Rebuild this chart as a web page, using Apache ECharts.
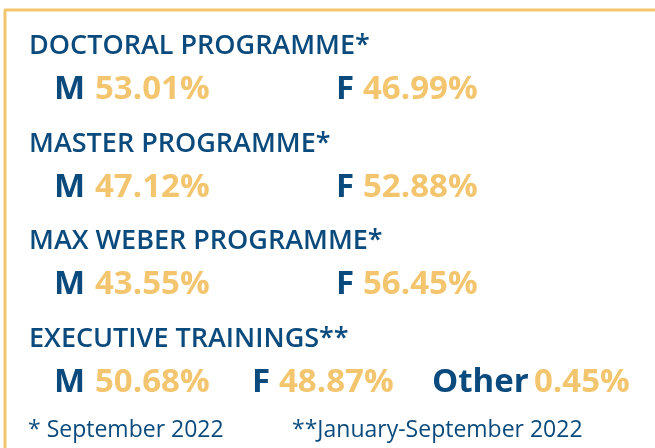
<!DOCTYPE html>
<html><head><meta charset="utf-8">
<script src="https://cdn.jsdelivr.net/npm/echarts@6/dist/echarts.min.js"></script>
<style>html,body{margin:0;padding:0;background:#fff}#c{width:655px;height:448px}</style>
</head><body><div id="c"></div>
<script>
const programmes = ['DOCTORAL PROGRAMME', 'MASTER PROGRAMME', 'MAX WEBER PROGRAMME', 'EXECUTIVE TRAININGS'];
const footMarks = ['*', '*', '*', '**'];
const maleShare = [53.01, 47.12, 43.55, 50.68];
const femaleShare = [46.99, 52.88, 56.45, 48.87];
const otherShare = [null, null, null, 0.45];
const footnotes = ['* September 2022', '**January-September 2022'];

const NAVY = '#0b4a7c', GOLD = '#f2c56e', FONT = 'Open Sans';
const pct = v => v.toFixed(2) + '%';

function valueText(i) {
  if (otherShare[i] == null) {
    return '{km|M}{v1|' + pct(maleShare[i]) + '}{kf|F}{v|' + pct(femaleShare[i]) + '}';
  }
  return '{km|M}{v1s|' + pct(maleShare[i]) + '}{kf|F}{v2s|' + pct(femaleShare[i]) +
         '}{ko|Other}{v|' + pct(otherShare[i]) + '}';
}

const key = w => ({color: NAVY, fontFamily: FONT, fontWeight: 'bold', fontSize: 33, lineHeight: 36, width: w});
const val = w => ({color: GOLD, fontFamily: FONT, fontWeight: 'bold', fontSize: 33, lineHeight: 36, width: w});

const chart = echarts.init(document.getElementById('c'), null, {renderer: 'canvas'});
chart.setOption({
  animation: false,
  backgroundColor: '#fff',
  grid: {left: 0, right: 0, top: 17.25, height: 390},
  xAxis: {type: 'value', min: 0, max: 1, show: false},
  yAxis: {type: 'category', data: programmes, inverse: true, show: false},
  series: [
    {
      type: 'scatter', symbolSize: 0, silent: true, itemStyle: {opacity: 1},
      data: programmes.map((p, i) => [0, p]),
      label: {
        show: true, position: [29, -33],
        formatter: p => programmes[p.dataIndex] + footMarks[p.dataIndex],
        color: NAVY, fontFamily: FONT, fontSize: 27, fontWeight: 600
      }
    },
    {
      type: 'scatter', symbolSize: 0, silent: true, itemStyle: {opacity: 1},
      data: programmes.map((p, i) => [0, p]),
      label: {
        show: true, position: [54, 6],
        formatter: p => valueText(p.dataIndex),
        rich: {
          km: key(41), kf: key(27), ko: key(102),
          v1: val(241), v1s: val(157), v2s: val(153), v: val(null)
        }
      }
    }
  ],
  graphic: [
    {type: 'line', shape: {x1: 4, y1: 10, x2: 655, y2: 10}, style: {stroke: GOLD, lineWidth: 3}},
    {type: 'line', shape: {x1: 5, y1: 10, x2: 5, y2: 448}, style: {stroke: GOLD, lineWidth: 3}},
    {type: 'text', x: 28, y: 419, style: {text: footnotes[0], fill: NAVY, font: '23px "Open Sans"'}},
    {type: 'text', x: 292, y: 419, style: {text: footnotes[1], fill: NAVY, font: '23px "Open Sans"'}}
  ]
});
</script></body></html>
